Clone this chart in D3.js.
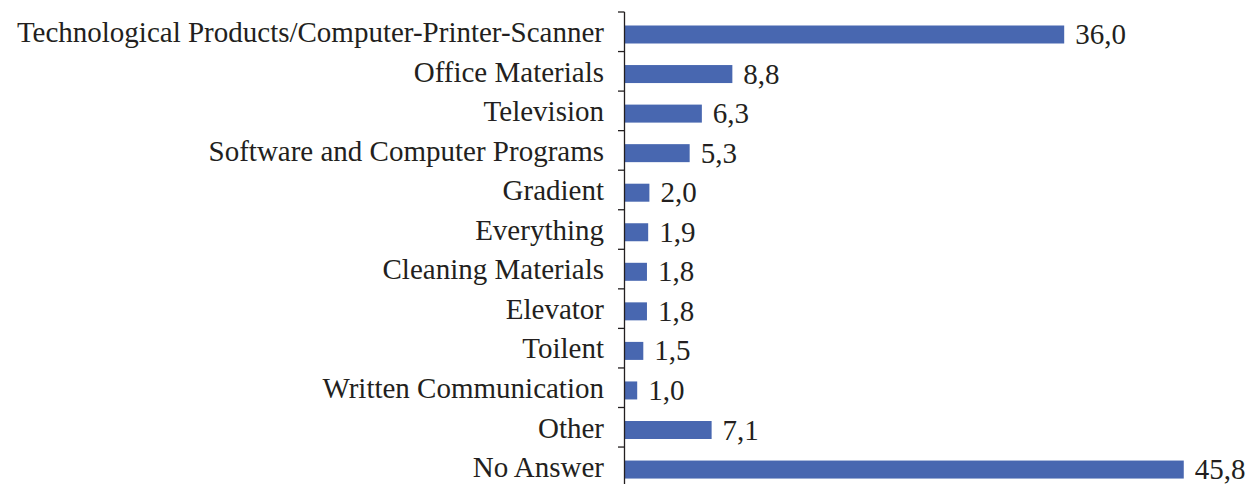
<!DOCTYPE html>
<html>
<head>
<meta charset="utf-8">
<script src="https://cdn.jsdelivr.net/npm/d3@7"></script>
<style>
  html, body { margin: 0; padding: 0; background: #fff; }
  svg { display: block; }
  text { font-family: "Liberation Serif", "Times New Roman", serif; fill: #231f20; }
</style>
</head>
<body>
<svg id="chart" width="1253" height="484"></svg>
<script>
const categories = [
  "Technological Products/Computer-Printer-Scanner",
  "Office Materials",
  "Television",
  "Software and Computer Programs",
  "Gradient",
  "Everything",
  "Cleaning Materials",
  "Elevator",
  "Toilent",
  "Written Communication",
  "Other",
  "No Answer"
];
const values = [36.0, 8.8, 6.3, 5.3, 2.0, 1.9, 1.8, 1.8, 1.5, 1.0, 7.1, 45.8];
const valueLabels = ["36,0", "8,8", "6,3", "5,3", "2,0", "1,9", "1,8", "1,8", "1,5", "1,0", "7,1", "45,8"];

const svg = d3.select("#chart");
const axisX = 625, plotTop = 12, band = 39.55;

const x = d3.scaleLinear().domain([0, 50]).range([axisX, axisX + 50 * 12.2]);
const y = d3.scaleBand().domain(categories).range([plotTop, plotTop + band * categories.length]).padding(0);

const barH = 18;
const barOff = 13.5;
const fontSize = 29;

// bars
svg.selectAll("rect.bar").data(values).join("rect")
  .attr("class", "bar")
  .attr("x", x(0))
  .attr("y", (d, i) => y(categories[i]) + barOff)
  .attr("width", d => x(d) - x(0))
  .attr("height", barH)
  .attr("fill", "#4867b0");

// value labels
svg.selectAll("text.val").data(values).join("text")
  .attr("class", "val")
  .attr("x", d => x(d) + 11)
  .attr("y", (d, i) => y(categories[i]) + barOff + barH / 2 + 9.5)
  .attr("font-size", fontSize)
  .text((d, i) => valueLabels[i]);

// category axis with ticks on band boundaries
const axisG = svg.append("g");
axisG.append("line")
  .attr("x1", axisX - 0.5).attr("x2", axisX - 0.5)
  .attr("y1", plotTop).attr("y2", 484)
  .attr("stroke", "#231f20").attr("stroke-width", 1.3);
const boundaries = categories.map(c => y(c));
axisG.selectAll("line.tick").data(boundaries).join("line")
  .attr("class", "tick")
  .attr("x1", axisX - 7).attr("x2", axisX - 0.5)
  .attr("y1", d => d).attr("y2", d => d)
  .attr("stroke", "#231f20").attr("stroke-width", 1.3);

// category labels
svg.selectAll("text.cat").data(categories).join("text")
  .attr("class", "cat")
  .attr("x", axisX - 21)
  .attr("y", d => y(d) + barOff + barH / 2 + 7.5)
  .attr("text-anchor", "end")
  .attr("font-size", fontSize)
  .text(d => d);
</script>
</body>
</html>
